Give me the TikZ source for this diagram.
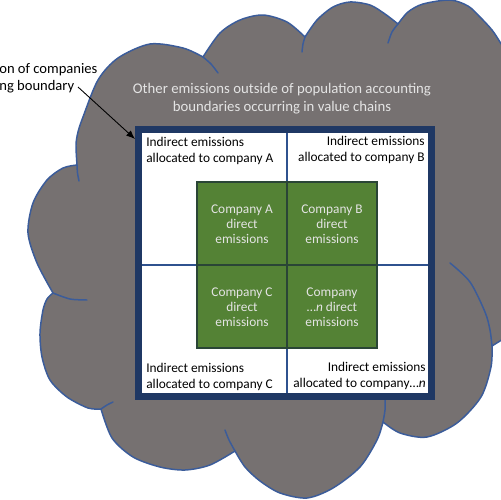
\documentclass[tikz,border=0pt]{standalone}
\usepackage{fontspec}
\setmainfont{Carlito}
\usetikzlibrary{arrows.meta}
\definecolor{cloudgray}{HTML}{767171}
\definecolor{cloudline}{HTML}{3B5C9A}
\definecolor{navy}{HTML}{1F3864}
\definecolor{divider}{HTML}{2F528F}
\definecolor{greenfill}{HTML}{548235}
\definecolor{greenedge}{HTML}{2A4536}
\definecolor{lighttext}{HTML}{E4E4E4}
\tikzset{
  cloudstroke/.style={draw=cloudline, line width=0.85pt, line join=round, line cap=round},
  qtext/.style={inner sep=0pt, text=black, font=\fontsize{7.6}{9.1}\selectfont},
  gtext/.style={inner sep=0pt, text=lighttext, align=center, font=\fontsize{7.6}{8.7}\selectfont},
  ctext/.style={inner sep=0pt, text=lighttext, align=center, font=\fontsize{8.4}{10.2}\selectfont},
  ltext/.style={inner sep=0pt, text=black, align=left, font=\fontsize{8.3}{9.7}\selectfont},
  divline/.style={draw=divider, line width=0.7pt},
  arrowline/.style={draw=black, line width=0.5pt, -{Latex[length=5pt,width=4pt]}}
}
\begin{document}
\begin{tikzpicture}[x=0.02cm,y=-0.02cm]
\useasboundingbox (0,0) rectangle (500,500);
% cloud
\path[fill=cloudgray, cloudstroke]
  (77,165) -- plot[smooth] coordinates {(77,165) (76,145) (78,132) (83,117) (98,80) (118,58) (150,44) (183,48) (203,57)}
  -- plot[smooth] coordinates {(203,57) (220,33) (240,20) (263,15) (287,22) (305,37)}
  -- plot[smooth] coordinates {(305,37) (317,20) (333,7) (350,2) (370,5) (385,14) (398,24)}
  -- plot[smooth] coordinates {(398,24) (408,12) (423,4) (450,0) (468,6) (480,17) (492,30) (500,42) (506,52)}
  -- (530,52) -- (530,320)
  -- plot[smooth] coordinates {(530,320) (515,332) (500,341) (492,346)}
  -- plot[smooth] coordinates {(492,346) (491,367) (481,397) (457,423) (427,437) (400,433) (383,422)}
  -- plot[smooth] coordinates {(383,422) (377,440) (360,467) (333,488) (307,498) (280,493) (260,481) (245,467) (235,451)}
  -- plot[smooth] coordinates {(235,451) (210,465) (185,470) (160,467) (133,457) (112,438) (101,409)}
  -- plot[smooth] coordinates {(101,409) (88,408) (67,397) (50,380) (42,357) (40,333) (43,310) (47,299) (53,293)}
  -- plot[smooth] coordinates {(53,293) (37,263) (28,233) (33,203) (47,180) (63,168) (77,165)}
  -- cycle;
% interior arc ends of the cloud
\draw[cloudstroke] plot[smooth] coordinates {(77,165) (77.5,173) (79,181)};
\draw[cloudstroke] plot[smooth] coordinates {(203,57) (211,64) (218,73)};
\draw[cloudstroke] plot[smooth] coordinates {(305,37) (303,44) (302,52)};
\draw[cloudstroke] plot[smooth] coordinates {(398,24) (392,32) (388,43)};
\draw[cloudstroke] plot[smooth] coordinates {(492,346) (490,330) (485,312) (470,282) (450,263)};
\draw[cloudstroke] plot[smooth] coordinates {(383,422) (385,410) (385,398)};
\draw[cloudstroke] plot[smooth] coordinates {(235,451) (229,440) (225,430)};
\draw[cloudstroke] plot[smooth] coordinates {(101,409) (107,405) (113,402)};
\draw[cloudstroke] plot[smooth] coordinates {(53,293) (70,299) (87,300)};
% boundary box
\coordinate (bo1) at (135,126);
\coordinate (bo2) at (435,400);
\coordinate (bi1) at (142,133);
\coordinate (bi2) at (428,393);
\fill[navy] (bo1) rectangle (bo2);
\fill[white] (bi1) rectangle (bi2);
% green square
\coordinate (g1) at (197,182);
\coordinate (g2) at (377,348);
\fill[greenfill] (g1) rectangle (g2);
% dividers
\coordinate (vt) at (287,133);
\coordinate (vb) at (287,393);
\coordinate (hl) at (142,265);
\coordinate (hr) at (428,265);
\draw[divline] (vt) -- (vb);
\draw[divline] (hl) -- (hr);
\draw[draw=greenedge, line width=0.8pt] (g1) rectangle (g2);
\draw[draw=greenedge, line width=0.8pt] (287,182) -- (287,348);
\draw[draw=greenedge, line width=0.8pt] (197,265) -- (377,265);
% texts
\node[ctext] (ct) at (282,98.5) {Other emissions outside of population accounting\\boundaries occurring in value chains};
\node[ltext, anchor=west] (lbl) at (-1,78.5) {on of companies\\ng boundary};
\node[qtext, anchor=west, align=left] (ta) at (146,151) {Indirect emissions\\allocated to company A};
\node[qtext, anchor=east, align=right] (tb) at (425,150) {Indirect emissions\\allocated to company B};
\node[qtext, anchor=west, align=left] (tc) at (146,376.5) {Indirect emissions\\allocated to company C};
\node[qtext, anchor=east, align=right] (tn) at (426,376) {Indirect emissions\\allocated to company…\textit{n}};
\node[gtext] (ga) at (242,224) {Company A\\direct\\emissions};
\node[gtext] (gb) at (332,224) {Company B\\direct\\emissions};
\node[gtext] (gc) at (242,307) {Company C\\direct\\emissions};
\node[gtext] (gn) at (332,307) {Company\\…\textit{n} direct\\emissions};
% arrow
\coordinate (as) at (78,87);
\coordinate (ae) at (135,139);
\draw[arrowline] (as) -- (ae);
\end{tikzpicture}
\end{document}
